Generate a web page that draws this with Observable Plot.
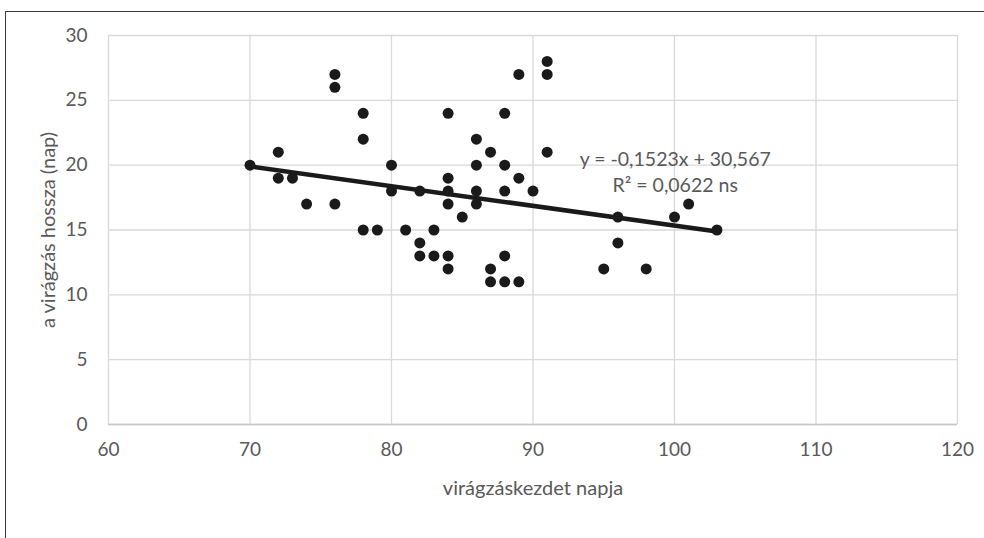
<!DOCTYPE html>
<html>
<head>
<meta charset="utf-8">
<script src="https://cdn.jsdelivr.net/npm/d3@7"></script>
<script src="https://cdn.jsdelivr.net/npm/@observablehq/plot@0.6"></script>
<style>
  html, body { margin: 0; padding: 0; background: #fff; }
  #wrap { position: relative; width: 984px; height: 538px; overflow: hidden; }
  #frame { position: absolute; left: 5px; top: 11px; width: 990px; height: 540px;
           border-top: 1.5px solid #3a3a3a; border-left: 1.5px solid #3a3a3a; box-sizing: border-box; }
  #chart { position: absolute; left: 0; top: 0; }
</style>
</head>
<body>
<div id="wrap"><div id="chart"></div><div id="frame"></div></div>
<script>
// Data
const startDay = [70,72,72,73,74,76,76,76,78,78,78,79,80,80,81,82,82,82,83,83,84,84,84,84,84,84,85,86,86,86,86,87,87,87,88,88,88,88,88,89,89,89,90,91,91,91,95,96,96,98,100,101,103];
const duration = [20,21,19,19,17,27,26,17,24,22,15,15,20,18,15,18,14,13,15,13,24,19,18,17,13,12,16,22,20,18,17,21,12,11,24,20,18,13,11,27,19,11,18,28,27,21,12,16,14,12,16,17,15];
const xTicks = [60, 70, 80, 90, 100, 110, 120];
const yTicks = [0, 5, 10, 15, 20, 25, 30];
const slope = -0.1523;
const intercept = 30.567;
const eqLabel = "y = -0,1523x + 30,567";
const r2Label = "R² = 0,0622 ns";
const xTitle = "virágzáskezdet napja";
const yTitle = "a virágzás hossza (nap)";

const points = startDay.map((x, i) => ({x, y: duration[i]}));
const xExt = d3.extent(startDay);
const trend = xExt.map(x => ({x, y: intercept + slope * x}));

const textColor = "#595959";
const gridColor = "#d9d9d9";
const font = "Lato, 'Open Sans', sans-serif";

const chart = Plot.plot({
  width: 984,
  height: 538,
  marginLeft: 108,
  marginRight: 27,
  marginTop: 35,
  marginBottom: 114,
  x: {domain: [60, 120], label: null},
  y: {domain: [0, 30], label: null},
  style: {fontFamily: font, fontSize: "19px", color: textColor, background: "transparent", overflow: "visible"},
  marks: [
    Plot.gridX(xTicks, {stroke: gridColor, strokeOpacity: 1, strokeWidth: 1.3}),
    Plot.gridY(yTicks, {stroke: gridColor, strokeOpacity: 1, strokeWidth: 1.3}),
    Plot.ruleY([0], {stroke: "#c8c8c8", strokeWidth: 1.5}),
    Plot.axisX(xTicks, {tickSize: 0, tickPadding: 18, label: null, fill: textColor, fontSize: 19}),
    Plot.axisY(yTicks, {tickSize: 0, tickPadding: 21, label: null, fill: textColor, fontSize: 19}),
    Plot.text([xTitle], {frameAnchor: "bottom", textAnchor: "middle", lineAnchor: "middle", dy: 64, fill: textColor, fontSize: 20}),
    Plot.text([yTitle], {frameAnchor: "left", textAnchor: "middle", lineAnchor: "middle", rotate: -90, dx: -60, fill: textColor, fontSize: 20}),
    Plot.line(trend, {x: "x", y: "y", stroke: "#1a1a1a", strokeWidth: 4.5}),
    Plot.dot(points, {x: "x", y: "y", r: 5.5, fill: "#1a1a1a", stroke: "none"}),
    Plot.text([eqLabel], {x: () => 100.05, y: () => 20.45, fill: textColor, fontSize: 19.5}),
    Plot.text([r2Label], {x: () => 100.05, y: () => 18.45, fill: textColor, fontSize: 19.5})
  ]
});
document.getElementById("chart").appendChild(chart);
</script>
</body>
</html>
